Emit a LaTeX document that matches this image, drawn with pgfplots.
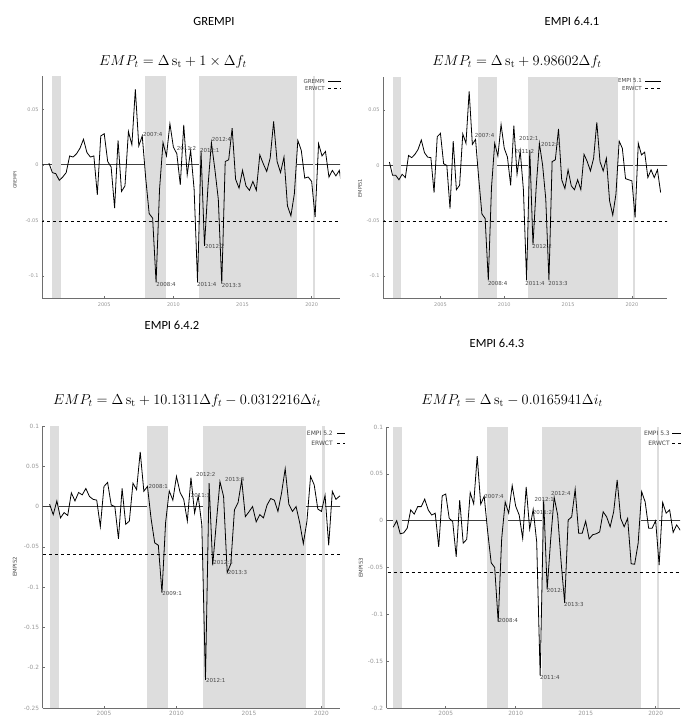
\documentclass[border=0pt]{standalone}
\usepackage{fontspec}
\usepackage{pgfplots}
\pgfplotsset{compat=1.18}
\newfontfamily\plotfont{DejaVu Sans}
\newfontfamily\titlefont{Carlito}
\definecolor{shadegray}{RGB}{221,221,221}
\definecolor{axgray}{RGB}{110,110,110}
\definecolor{tickgray}{RGB}{150,150,150}
\definecolor{labgray}{RGB}{70,70,70}

\pgfplotstableread{
x y
2001.00 0.0015
2001.25 -0.007
2001.50 -0.008
2001.75 -0.014
2002.00 -0.011
2002.25 -0.007
2002.50 0.008
2002.75 0.007
2003.00 0.010
2003.25 0.015
2003.50 0.023
2003.75 0.011
2004.00 0.007
2004.25 0.008
2004.50 -0.027
2004.75 0.026
2005.00 0.028
2005.25 0.003
2005.50 -0.002
2005.75 -0.039
2006.00 0.022
2006.25 -0.024
2006.50 -0.019
2006.75 0.030
2007.00 0.018
2007.25 0.068
2007.50 0.017
2007.75 0.026
2008.00 -0.012
2008.25 -0.044
2008.50 -0.048
2008.75 -0.106
2009.00 -0.022
2009.25 0.020
2009.50 0.008
2009.75 0.037
2010.00 0.016
2010.25 0.010
2010.50 -0.018
2010.75 0.036
2011.00 -0.009
2011.25 0.013
2011.50 -0.022
2011.75 -0.106
2012.00 0.0125
2012.25 -0.073
2012.50 -0.020
2012.75 0.020
2013.00 -0.004
2013.25 -0.031
2013.50 -0.107
2013.75 0.003
2014.00 0.0045
2014.25 0.033
2014.50 -0.013
2014.75 -0.021
2015.00 -0.005
2015.25 -0.019
2015.50 -0.023
2015.75 -0.015
2016.00 -0.023
2016.25 0.009
2016.50 0.001
2016.75 -0.006
2017.00 0.006
2017.25 0.039
2017.50 0.003
2017.75 -0.007
2018.00 0.007
2018.25 -0.037
2018.50 -0.046
2018.75 -0.026
2019.00 0.022
2019.25 0.013
2019.50 -0.012
2019.75 -0.011
2020.00 -0.015
2020.25 -0.047
2020.50 0.019
2020.75 0.008
2021.00 0.012
2021.25 -0.011
2021.50 -0.005
2021.75 -0.010
2022.00 -0.005
2022.25 -0.025
}\grempi

\pgfplotstableread{
x y
2001.00 0.003
2001.25 -0.009
2001.50 -0.009
2001.75 -0.013
2002.00 -0.008
2002.25 -0.011
2002.50 0.009
2002.75 0.007
2003.00 0.010
2003.25 0.0145
2003.50 0.023
2003.75 0.0115
2004.00 0.0075
2004.25 0.007
2004.50 -0.0245
2004.75 0.026
2005.00 0.029
2005.25 0.0015
2005.50 0.000
2005.75 -0.039
2006.00 0.022
2006.25 -0.022
2006.50 -0.018
2006.75 0.0285
2007.00 0.020
2007.25 0.067
2007.50 0.019
2007.75 0.0235
2008.00 -0.012
2008.25 -0.044
2008.50 -0.048
2008.75 -0.104
2009.00 -0.020
2009.25 0.020
2009.50 0.0085
2009.75 0.037
2010.00 0.0155
2010.25 0.0075
2010.50 -0.018
2010.75 0.036
2011.00 -0.008
2011.25 0.013
2011.50 -0.022
2011.75 -0.104
2012.00 0.014
2012.25 -0.072
2012.50 -0.020
2012.75 0.020
2013.00 0.0006
2013.25 -0.030
2013.50 -0.104
2013.75 0.0035
2014.00 0.005
2014.25 0.033
2014.50 -0.013
2014.75 -0.021
2015.00 -0.004
2015.25 -0.0185
2015.50 -0.022
2015.75 -0.013
2016.00 -0.022
2016.25 0.010
2016.50 0.0035
2016.75 -0.005
2017.00 0.0065
2017.25 0.039
2017.50 0.0035
2017.75 -0.005
2018.00 0.0065
2018.25 -0.032
2018.50 -0.045
2018.75 -0.026
2019.00 0.022
2019.25 0.0155
2019.50 -0.012
2019.75 -0.013
2020.00 -0.014
2020.25 -0.047
2020.50 0.020
2020.75 0.0095
2021.00 0.012
2021.25 -0.011
2021.50 -0.004
2021.75 -0.011
2022.00 -0.004
2022.25 -0.0245
}\empiA

\pgfplotstableread{
x y
2001.25 0.003
2001.50 -0.010
2001.75 0.007
2002.00 -0.014
2002.25 -0.0075
2002.50 -0.011
2002.75 0.017
2003.00 0.007
2003.25 0.0175
2003.50 0.0145
2003.75 0.0225
2004.00 0.0125
2004.25 0.009
2004.50 0.008
2004.75 -0.025
2005.00 0.025
2005.25 0.030
2005.50 0.002
2005.75 0.000
2006.00 -0.040
2006.25 0.0225
2006.50 -0.022
2006.75 -0.018
2007.00 0.029
2007.25 0.021
2007.50 0.068
2007.75 0.019
2008.00 0.025
2008.25 -0.015
2008.50 -0.045
2008.75 -0.048
2009.00 -0.107
2009.25 -0.020
2009.50 0.0195
2009.75 0.008
2010.00 0.0375
2010.25 0.0175
2010.50 0.009
2010.75 -0.018
2011.00 0.036
2011.25 -0.008
2011.50 0.013
2011.75 -0.023
2012.00 -0.215
2012.25 0.029
2012.50 -0.073
2012.75 -0.020
2013.00 0.031
2013.25 0.0125
2013.50 -0.082
2013.75 -0.071
2014.00 -0.004
2014.25 0.005
2014.50 0.033
2014.75 -0.0125
2015.00 -0.0065
2015.25 0.000
2015.50 -0.019
2015.75 -0.010
2016.00 -0.014
2016.25 0.002
2016.50 0.010
2016.75 0.008
2017.00 -0.006
2017.25 0.017
2017.50 0.047
2017.75 0.003
2018.00 -0.006
2018.25 0.000
2018.50 -0.020
2018.75 -0.046
2019.00 -0.018
2019.25 0.0375
2019.50 0.027
2019.75 -0.003
2020.00 -0.006
2020.25 0.014
2020.50 -0.048
2020.75 0.019
2021.00 0.009
2021.25 0.013
2021.50 0.012
2021.75 -0.005
}\empiB

\pgfplotstableread{
x y
2001.25 -0.007
2001.50 0.000
2001.75 -0.014
2002.00 -0.013
2002.25 -0.008
2002.50 0.0115
2002.75 0.007
2003.00 0.015
2003.25 0.015
2003.50 0.023
2003.75 0.0115
2004.00 0.006
2004.25 0.008
2004.50 -0.028
2004.75 0.0265
2005.00 0.0285
2005.25 0.0025
2005.50 -0.001
2005.75 -0.0385
2006.00 0.022
2006.25 -0.024
2006.50 -0.020
2006.75 0.030
2007.00 0.018
2007.25 0.069
2007.50 0.0175
2007.75 0.026
2008.00 -0.012
2008.25 -0.045
2008.50 -0.050
2008.75 -0.108
2009.00 -0.019
2009.25 0.020
2009.50 0.008
2009.75 0.0375
2010.00 0.0155
2010.25 0.006
2010.50 -0.019
2010.75 0.036
2011.00 -0.009
2011.25 0.012
2011.50 -0.0225
2011.75 -0.166
2012.00 0.022
2012.25 -0.0735
2012.50 -0.020
2012.75 0.025
2013.00 0.006
2013.25 -0.045
2013.50 -0.088
2013.75 0.0007
2014.00 0.004
2014.25 0.0335
2014.50 -0.0135
2014.75 -0.0135
2015.00 -0.0005
2015.25 -0.0195
2015.50 -0.015
2015.75 -0.014
2016.00 -0.012
2016.25 0.0095
2016.50 0.004
2016.75 -0.0065
2017.00 0.0095
2017.25 0.0435
2017.50 0.0025
2017.75 -0.0065
2018.00 0.0025
2018.25 -0.046
2018.50 -0.0465
2018.75 -0.024
2019.00 0.031
2019.25 0.020
2019.50 -0.008
2019.75 -0.008
2020.00 0.000
2020.25 -0.0475
2020.50 0.0195
2020.75 0.008
2021.00 0.0115
2021.25 -0.0125
2021.50 -0.0045
2021.75 -0.010
2022.00 -0.005
}\empiC

\pgfplotsset{gretl/.style={
  scale only axis, axis lines*=left,
  axis line style={axgray, line width=0.6pt},
  tick align=inside, major tick length=2.2pt,
  tick style={axgray, line width=0.5pt},
  xtick={2005,2010,2015,2020}, xticklabels={2005,2010,2015,2020},
  /pgf/number format/assume math mode=true,
  ticklabel style={text=tickgray},
  clip=true,
}}

\newcommand{\shades}[2]{%
  \fill[shadegray] (axis cs:2001.25,#1) rectangle (axis cs:2001.9,#2);
  \fill[shadegray] (axis cs:2007.97,#1) rectangle (axis cs:2009.45,#2);
  \fill[shadegray] (axis cs:2011.86,#1) rectangle (axis cs:2018.93,#2);
  \fill[shadegray] (axis cs:2020.07,#1) rectangle (axis cs:2020.25,#2);
}
\newcommand{\lab}[3]{\node[anchor=west, inner sep=0pt, text=labgray, font=\plotfont\fontsize{5.5}{6}\selectfont] at (axis cs:#1,#2) {#3};}

\begin{document}
\begin{tikzpicture}
\path[use as bounding box] (0pt,0pt) rectangle (680pt,-717pt);

% titles
\node[font=\titlefont\fontsize{12.5}{14}\selectfont] at (214pt,-21pt) {GREMPI};
\node[font=\titlefont\fontsize{12.5}{14}\selectfont] at (572pt,-21pt) {EMPI 6.4.1};
\node[font=\titlefont\fontsize{12.5}{14}\selectfont] at (172pt,-325pt) {EMPI 6.4.2};
\node[font=\titlefont\fontsize{12.5}{14}\selectfont] at (497pt,-343pt) {EMPI 6.4.3};
\node[font=\fontsize{14.5}{16}\selectfont] at (173pt,-62pt) {$EMP_t = \Delta\,\mathrm{s}_\mathrm{t} + 1\times\Delta f_t$};
\node[font=\fontsize{14.5}{16}\selectfont] at (517pt,-62pt) {$EMP_t = \Delta\,\mathrm{s}_\mathrm{t} + 9.98602\Delta f_t$};
\node[font=\fontsize{14.5}{16}\selectfont] at (187pt,-401pt) {$EMP_t = \Delta\,\mathrm{s}_\mathrm{t} + 10.1311\Delta f_t - 0.0312216\Delta i_t$};
\node[font=\fontsize{14.5}{16}\selectfont] at (512pt,-401pt) {$EMP_t = \Delta\,\mathrm{s}_\mathrm{t} - 0.0165941\Delta i_t$};

% panel 1
\begin{axis}[gretl, at={(42pt,-298pt)}, anchor=south west, width=298pt, height=222pt,
  xmin=2000.5, xmax=2022.05, ymin=-0.12, ymax=0.08,
  ytick={-0.1,-0.05,0,0.05}, yticklabels={-0.1,-0.05,0,0.05},
  ticklabel style={font=\plotfont\fontsize{5}{6}\selectfont},
  xticklabel style={yshift=-1pt}]
  \addplot[black!75, line width=0.7pt] coordinates {(2000,0) (2023,0)};
  \shades{-0.12}{0.08}
  \addplot[black, dashed, line width=0.7pt] coordinates {(2000,-0.0505) (2023,-0.0505)};
  \addplot[black, line width=0.8pt] table[x=x,y=y] {\grempi};
  \lab{2007.79}{0.0269}{2007:4}
  \lab{2008.75}{-0.1075}{2008:4}
  \lab{2010.24}{0.0144}{2011:2}
  \lab{2011.92}{0.0128}{2012:1}
  \lab{2012.77}{0.0224}{2012:4}
  \lab{2012.28}{-0.0733}{2012:2}
  \lab{2011.70}{-0.1077}{2011:4}
  \lab{2013.49}{-0.1083}{2013:3}
\end{axis}

% panel 2
\begin{axis}[gretl, at={(383pt,-298pt)}, anchor=south west, width=284pt, height=221pt,
  xmin=2000.5, xmax=2022.75, ymin=-0.12, ymax=0.08,
  ytick={-0.1,-0.05,0,0.05}, yticklabels={-0.1,-0.05,0,0.05},
  ticklabel style={font=\plotfont\fontsize{5}{6}\selectfont},
  xticklabel style={yshift=-1pt}]
  \addplot[black!75, line width=0.7pt] coordinates {(2000,0) (2023,0)};
  \shades{-0.12}{0.08}
  \addplot[black, dashed, line width=0.7pt] coordinates {(2000,-0.0502) (2023,-0.0502)};
  \addplot[black, line width=0.8pt] table[x=x,y=y] {\empiA};
  \lab{2007.69}{0.027}{2007:4}
  \lab{2011.14}{0.0247}{2012:1}
  \lab{2010.80}{0.0126}{2011:2}
  \lab{2012.88}{0.0186}{2012:4}
  \lab{2012.19}{-0.073}{2012:2}
  \lab{2008.71}{-0.1068}{2008:4}
  \lab{2011.63}{-0.1068}{2011:4}
  \lab{2013.44}{-0.1068}{2013:3}
\end{axis}

% panel 3
\begin{axis}[gretl, at={(42.5pt,-708pt)}, anchor=south west, width=297.5pt, height=282pt,
  xmin=2000.76, xmax=2021.28, ymin=-0.25, ymax=0.1,
  ytick={-0.25,-0.2,-0.15,-0.1,-0.05,0,0.05,0.1}, yticklabels={-0.25,-0.2,-0.15,-0.1,-0.05,0,0.05,0.1},
  ticklabel style={font=\plotfont\fontsize{5.8}{7}\selectfont},
  xticklabel style={yshift=0.5pt}]
  \addplot[black!75, line width=0.7pt] coordinates {(2000,0) (2023,0)};
  \shades{-0.25}{0.1}
  \addplot[black, dashed, line width=0.7pt] coordinates {(2000,-0.0588) (2023,-0.0588)};
  \addplot[black, line width=0.8pt] table[x=x,y=y] {\empiB};
  \lab{2008.06}{0.0245}{2008:1}
  \lab{2010.98}{0.0141}{2011:3}
  \lab{2011.34}{0.0404}{2012:2}
  \lab{2013.34}{0.033}{2013:4}
  \lab{2012.54}{-0.0688}{2012:3}
  \lab{2013.53}{-0.0817}{2013:3}
  \lab{2009.02}{-0.1075}{2009:1}
  \lab{2012.03}{-0.2159}{2012:1}
\end{axis}

% panel 4
\begin{axis}[gretl, at={(386.5pt,-708pt)}, anchor=south west, width=293.5pt, height=281pt,
  xmin=2000.77, xmax=2021.74, ymin=-0.2, ymax=0.1,
  ytick={-0.2,-0.15,-0.1,-0.05,0,0.05,0.1}, yticklabels={-0.2,-0.15,-0.1,-0.05,0,0.05,0.1},
  ticklabel style={font=\plotfont\fontsize{5.8}{7}\selectfont},
  xticklabel style={yshift=0.5pt}]
  \addplot[black!75, line width=0.7pt] coordinates {(2000,0) (2023,0)};
  \shades{-0.2}{0.1}
  \addplot[black, dashed, line width=0.7pt] coordinates {(2000,-0.0557) (2023,-0.0557)};
  \addplot[black, line width=0.8pt] table[x=x,y=y] {\empiC};
  \lab{2007.74}{0.0257}{2007:4}
  \lab{2011.33}{0.0229}{2012:1}
  \lab{2011.21}{0.0086}{2011:2}
  \lab{2012.52}{0.0286}{2012:4}
  \lab{2012.21}{-0.075}{2012:2}
  \lab{2013.45}{-0.0895}{2013:3}
  \lab{2008.76}{-0.1063}{2008:4}
  \lab{2011.74}{-0.167}{2011:4}
\end{axis}

% y labels
\node[rotate=90, text=labgray, font=\plotfont\fontsize{4.5}{5}\selectfont] at (15pt,-180pt) {GREMPI};
\node[rotate=90, text=labgray, font=\plotfont\fontsize{5}{6}\selectfont] at (360pt,-188pt) {EMPI51};
\node[rotate=90, text=labgray, font=\plotfont\fontsize{5.4}{6}\selectfont] at (15pt,-567pt) {EMPI52};
\node[rotate=90, text=labgray, font=\plotfont\fontsize{5.4}{6}\selectfont] at (361pt,-568pt) {EMPI53};

% legends
\begin{scope}[font=\plotfont\fontsize{5.5}{6}\selectfont, text=labgray]
\node[anchor=east, inner sep=0pt] at (325pt,-81pt) {GREMPI};
\draw[black, line width=0.7pt] (328pt,-81pt) -- (341pt,-81pt);
\node[anchor=east, inner sep=0pt] at (325pt,-88pt) {ERWCT};
\draw[black, dashed, line width=0.7pt] (328pt,-88pt) -- (341pt,-88pt);
\node[anchor=east, inner sep=0pt] at (642pt,-81pt) {EMPI 5.1};
\draw[black, line width=0.7pt] (645pt,-81pt) -- (661pt,-81pt);
\node[anchor=east, inner sep=0pt] at (642pt,-88pt) {ERWCT};
\draw[black, dashed, line width=0.7pt] (645pt,-88pt) -- (661pt,-88pt);
\end{scope}
\begin{scope}[font=\plotfont\fontsize{6}{7}\selectfont, text=labgray]
\node[anchor=east, inner sep=0pt] at (333pt,-433pt) {EMPI 5.2};
\draw[black, line width=0.7pt] (337pt,-433pt) -- (345pt,-433pt);
\node[anchor=east, inner sep=0pt] at (333pt,-443pt) {ERWCT};
\draw[black, dashed, line width=0.7pt] (337pt,-443pt) -- (345pt,-443pt);
\node[anchor=east, inner sep=0pt] at (670pt,-433pt) {EMPI 5.3};
\draw[black, line width=0.7pt] (672pt,-433pt) -- (682pt,-433pt);
\node[anchor=east, inner sep=0pt] at (670pt,-443pt) {ERWCT};
\draw[black, dashed, line width=0.7pt] (672pt,-443pt) -- (682pt,-443pt);
\end{scope}
\end{tikzpicture}
\end{document}
